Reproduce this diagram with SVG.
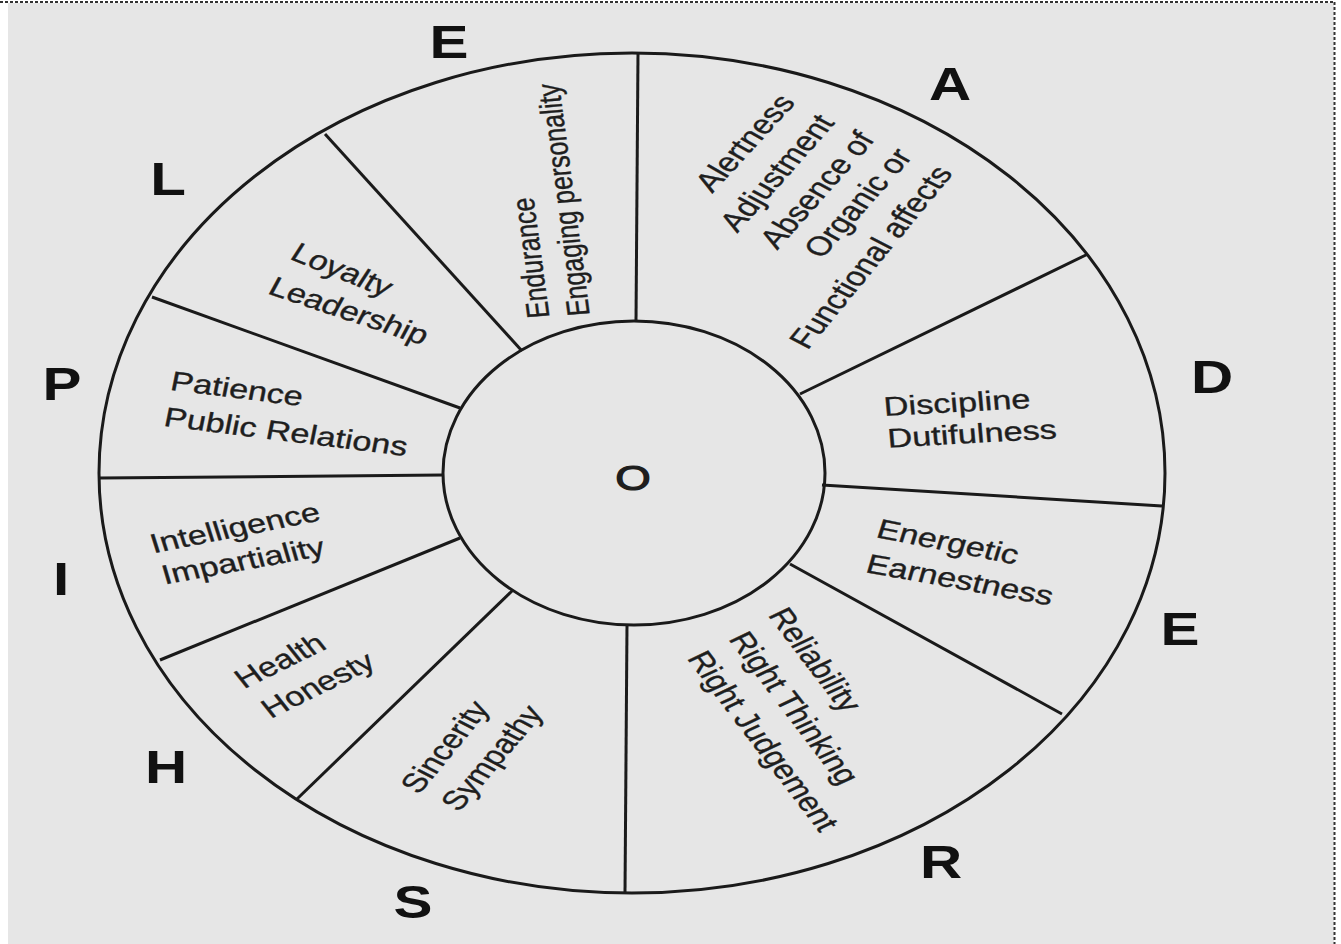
<svg xmlns="http://www.w3.org/2000/svg" width="1341" height="944" viewBox="0 0 1341 944">
<style>
.bg{fill:#e6e6e6}
.ring{fill:none;stroke:#1a1a1a;stroke-width:3}
.spoke{stroke:#1a1a1a;stroke-width:3;fill:none}
.t{font-family:"Liberation Sans",Arial,sans-serif;font-size:27px;fill:#1e1e1e;stroke:#1e1e1e;stroke-width:0.35;text-anchor:middle}
.e{font-size:25px}
.big{font-family:"Liberation Sans",Arial,sans-serif;font-size:46px;font-weight:bold;fill:#111;text-anchor:middle}
.dot{stroke:#333;stroke-width:2;stroke-dasharray:3 2;fill:none}
</style>
<rect width="1341" height="944" fill="#ffffff"/>
<rect class="bg" x="8" y="3" width="1326" height="941"/>
<line class="dot" x1="0" y1="2" x2="1335" y2="2"/>
<line class="dot" x1="1334.5" y1="2" x2="1334.5" y2="944"/>

<g id="wheel">
<ellipse class="ring" cx="632" cy="473" rx="533" ry="420"/>
<ellipse class="ring" cx="634" cy="473" rx="191" ry="152"/>
</g>

<g id="connectors">
<line class="spoke" x1="636" y1="322" x2="638" y2="53"/>
<line class="spoke" x1="800" y1="394" x2="1088" y2="254"/>
<line class="spoke" x1="822" y1="485" x2="1162" y2="506"/>
<line class="spoke" x1="790" y1="564" x2="1062" y2="714"/>
<line class="spoke" x1="627" y1="625" x2="625" y2="893"/>
<line class="spoke" x1="513" y1="590" x2="297" y2="799"/>
<line class="spoke" x1="460" y1="538" x2="160" y2="660"/>
<line class="spoke" x1="443" y1="475" x2="100" y2="478"/>
<line class="spoke" x1="460" y1="408" x2="152" y2="297"/>
<line class="spoke" x1="522" y1="351" x2="325" y2="134"/>
</g>

<g id="center">
<text class="t" x="0" y="0" transform="translate(633,490) scale(1.27,1)" style="font-size:36px;stroke-width:1.2">O</text>
</g>

<g id="seg-A">
<text class="big" transform="translate(950,100) scale(1.27,1)">A</text>
<text class="t" y="9" transform="translate(745,143) scale(1.27,1) rotate(-54)">Alertness</text>
<text class="t" y="9" transform="translate(777,173) scale(1.27,1) rotate(-55)">Adjustment</text>
<text class="t" y="9" transform="translate(817,190) scale(1.27,1) rotate(-55)">Absence of</text>
<text class="t" y="9" transform="translate(858,203) scale(1.27,1) rotate(-55)">Organic or</text>
<text class="t" y="9" transform="translate(871,257) scale(1.27,1) rotate(-57)">Functional affects</text>
</g>

<g id="seg-D">
<text class="big" transform="translate(1212,393) scale(1.27,1)">D</text>
<text class="t" y="9" transform="translate(957,403) scale(1.27,1) rotate(-4)">Discipline</text>
<text class="t" y="9" transform="translate(972,434) scale(1.27,1) rotate(-4)">Dutifulness</text>
</g>

<g id="seg-E2">
<text class="big" transform="translate(1180,645) scale(1.27,1)">E</text>
<text class="t" y="9" transform="translate(948,542) scale(1.27,1) rotate(14)">Energetic</text>
<text class="t" y="9" transform="translate(960,580) scale(1.27,1) rotate(13)">Earnestness</text>
</g>

<g id="seg-R">
<text class="big" transform="translate(941,878) scale(1.27,1)">R</text>
<text class="t" y="9" transform="translate(815,660) scale(1.27,1) rotate(59)">Reliability</text>
<text class="t" y="9" transform="translate(794,708) scale(1.27,1) rotate(59)">Right Thinking</text>
<text class="t" y="9" transform="translate(763,741) scale(1.27,1) rotate(59)">Right Judgement</text>
</g>

<g id="seg-S">
<text class="big" transform="translate(413,918) scale(1.27,1)">S</text>
<text class="t" y="9" transform="translate(445,747) scale(1.27,1) rotate(-57)">Sincerity</text>
<text class="t" y="9" transform="translate(492,758) scale(1.27,1) rotate(-56)">Sympathy</text>
</g>

<g id="seg-H">
<text class="big" transform="translate(166,783) scale(1.27,1)">H</text>
<text class="t" y="9" transform="translate(280,661) scale(1.27,1) rotate(-32)">Health</text>
<text class="t" y="9" transform="translate(318,685) scale(1.27,1) rotate(-32)">Honesty</text>
</g>

<g id="seg-I">
<text class="big" transform="translate(61,595) scale(1.27,1)">I</text>
<text class="t" y="9" transform="translate(235,528) scale(1.27,1) rotate(-14)">Intelligence</text>
<text class="t" y="9" transform="translate(243,561) scale(1.27,1) rotate(-13)">Impartiality</text>
</g>

<g id="seg-P">
<text class="big" transform="translate(62,400) scale(1.27,1)">P</text>
<text class="t" y="9" transform="translate(237,389) scale(1.27,1) rotate(9)">Patience</text>
<text class="t" y="9" transform="translate(286,432) scale(1.27,1) rotate(9)">Public Relations</text>
</g>

<g id="seg-L">
<text class="big" transform="translate(168,195) scale(1.27,1)">L</text>
<text class="t" y="9" transform="translate(342,270) scale(1.27,1) rotate(27)">Loyalty</text>
<text class="t" y="9" transform="translate(349,311) scale(1.27,1) rotate(23)">Leadership</text>
</g>

<g id="seg-E1">
<text class="big" transform="translate(449,58) scale(1.27,1)">E</text>
<text class="t e" y="9" transform="translate(530,258) scale(1.27,1) rotate(-96)">Endurance</text>
<text class="t e" y="9" transform="translate(563,200) scale(1.27,1) rotate(-96)">Engaging personality</text>
</g>
</svg>
